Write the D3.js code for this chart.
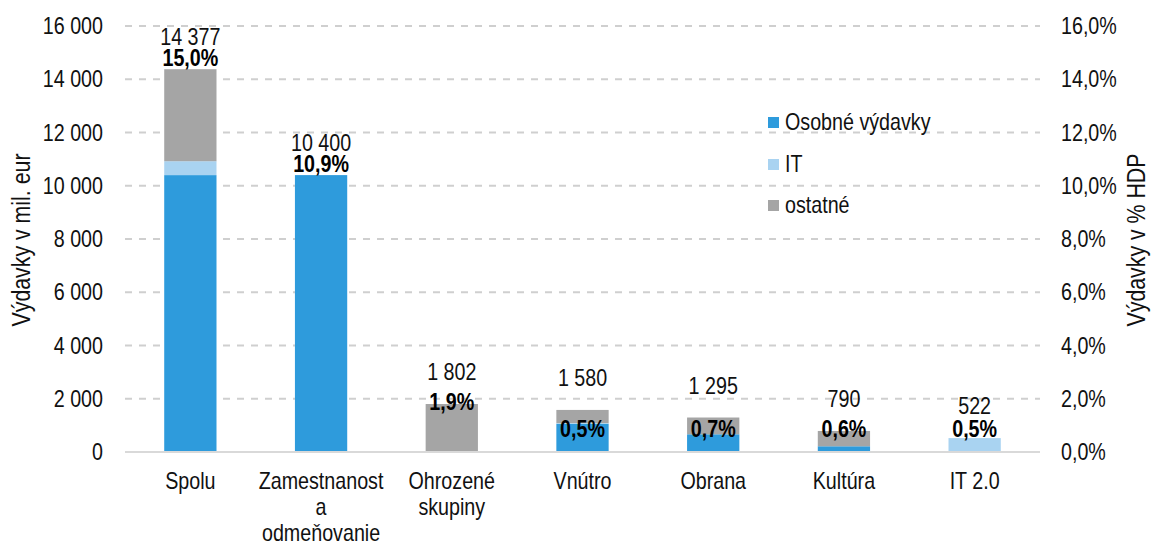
<!DOCTYPE html>
<html>
<head>
<meta charset="utf-8">
<script src="https://cdn.jsdelivr.net/npm/d3@7"></script>
<style>
  body { margin: 0; background: #fff; }
  svg { display: block; }
</style>
</head>
<body>
<svg id="chart" width="1153" height="546"></svg>
<script>
// Category labels (one entry per line)
const categories = [
  ["Spolu"],
  ["Zamestnanost", "a", "odmeňovanie"],
  ["Ohrozené", "skupiny"],
  ["Vnútro"],
  ["Obrana"],
  ["Kultúra"],
  ["IT 2.0"]
];
// Expenditure components, mil. EUR
const osobneVydavky  = [10400, 10400, 0, 1060, 665, 215, 0];
const itVydavky      = [522, 0, 0, 25, 0, 0, 522];
const ostatneVydavky = [3455, 0, 1802, 495, 630, 575, 0];
// Share of GDP, %
const podielHDP = [15.0, 10.9, 1.9, 0.5, 0.7, 0.6, 0.5];

const seriesNames = ["Osobné výdavky", "IT", "ostatné"];
const leftTicks  = [0, 2000, 4000, 6000, 8000, 10000, 12000, 14000, 16000];
const rightTicks = [0, 2, 4, 6, 8, 10, 12, 14, 16];
const leftTitle  = "Výdavky v mil. eur";
const rightTitle = "Výdavky v % HDP";

const colors = ["#2e9bdc", "#a9d3f1", "#a5a5a5"];
const FS = 24;

const rows = categories.map((c, i) => ({
  i,
  s0: osobneVydavky[i],
  s1: itVydavky[i],
  s2: ostatneVydavky[i],
  pct: podielHDP[i]
}));
rows.forEach(r => r.total = r.s0 + r.s1 + r.s2);

const sk = d3.formatLocale({ decimal: ",", thousands: "\u00a0", grouping: [3], currency: ["", " €"] });
const fmtNum = sk.format(",d");
const fmtPct = v => sk.format(".1f")(v) + "%";

// Font: narrow sans if present, otherwise compress the regular face horizontally
const cv = document.createElement("canvas").getContext("2d");
cv.font = "40px 'Liberation Sans Narrow', monospace";
const wN = cv.measureText("Zamestnanost 16 000").width;
cv.font = "40px monospace";
const wM = cv.measureText("Zamestnanost 16 000").width;
const hasNarrow = Math.abs(wN - wM) > 0.5;
const FONT = hasNarrow ? "'Liberation Sans Narrow', 'Arial Narrow', sans-serif" : "'Liberation Sans', Arial, sans-serif";
function condense(sel) {
  if (hasNarrow) return;
  sel.each(function () {
    const len = this.getComputedTextLength();
    if (len > 0) {
      this.setAttribute("textLength", (len * 0.82).toFixed(2));
      this.setAttribute("lengthAdjust", "spacingAndGlyphs");
    }
  });
}

const svg = d3.select("#chart").style("font-family", FONT);
const plotL = 125, plotR = 1040, plotT = 26, plotB = 452;

const x = d3.scaleBand().domain(d3.range(categories.length)).range([plotL, plotR])
  .paddingInner(0.6).paddingOuter(0.3);
const y = d3.scaleLinear().domain([0, 16000]).range([plotB, plotT]);
const yPct = d3.scaleLinear().domain([0, 16]).range([plotB, plotT]);

// Grid
svg.append("g").selectAll("line").data(leftTicks.filter(d => d > 0)).join("line")
  .attr("x1", plotL).attr("x2", plotR)
  .attr("y1", d => y(d)).attr("y2", d => y(d))
  .attr("stroke", "#cfcfcf").attr("stroke-width", 2).attr("stroke-dasharray", "7,7");

// Stacked bars
const keys = ["s0", "s1", "s2"];
const stacked = d3.stack().keys(keys)(rows);
svg.append("g").selectAll("g").data(stacked).join("g")
  .attr("fill", (d, k) => colors[k])
  .selectAll("rect").data(d => d.filter(p => p[1] > p[0])).join("rect")
  .attr("x", p => x(p.data.i))
  .attr("width", x.bandwidth())
  .attr("y", p => y(p[1]))
  .attr("height", p => y(p[0]) - y(p[1]));

// Baseline
svg.append("line").attr("x1", plotL).attr("x2", plotR)
  .attr("y1", y(0)).attr("y2", y(0))
  .attr("stroke", "#d9d9d9").attr("stroke-width", 2);

// Axes
const axL = svg.append("g").attr("transform", `translate(${plotL},0)`)
  .call(d3.axisLeft(y).tickValues(leftTicks).tickFormat(fmtNum).tickSize(0).tickPadding(22));
const axR = svg.append("g").attr("transform", `translate(${plotR},0)`)
  .call(d3.axisRight(yPct).tickValues(rightTicks).tickFormat(fmtPct).tickSize(0).tickPadding(21));
[axL, axR].forEach(a => {
  a.select(".domain").remove();
  a.selectAll("text").attr("font-size", FS).attr("fill", "#111").attr("font-family", FONT);
  condense(a.selectAll("text"));
});

// Category labels
const xl = svg.append("g");
categories.forEach((lines, i) => {
  lines.forEach((t, j) => {
    xl.append("text")
      .attr("x", x(i) + x.bandwidth() / 2)
      .attr("y", 489 + j * 26)
      .attr("text-anchor", "middle")
      .attr("font-size", FS).attr("fill", "#111")
      .text(t);
  });
});
condense(xl.selectAll("text"));

// Value labels: total above the bar, share of GDP near the bar top
const vl = svg.append("g");
vl.selectAll("text.tot").data(rows).join("text").attr("class", "tot")
  .attr("x", d => x(d.i) + x.bandwidth() / 2)
  .attr("y", d => y(d.total) - 24)
  .attr("text-anchor", "middle").attr("font-size", FS).attr("fill", "#111")
  .text(d => fmtNum(d.total));
vl.selectAll("text.pct").data(rows).join("text").attr("class", "pct")
  .attr("x", d => x(d.i) + x.bandwidth() / 2)
  .attr("y", d => Math.max(y(d.total) - 3, Math.min(yPct(d.pct) + 9, plotB - 15)))
  .attr("text-anchor", "middle").attr("font-size", FS).attr("font-weight", "bold").attr("fill", "#000")
  .text(d => fmtPct(d.pct));
condense(vl.selectAll("text"));

// Axis titles
const tl = svg.append("text")
  .attr("transform", `translate(30,240) rotate(-90)`)
  .attr("text-anchor", "middle").attr("font-size", 26).attr("fill", "#111")
  .text(leftTitle);
const tr = svg.append("text")
  .attr("transform", `translate(1145,240) rotate(-90)`)
  .attr("text-anchor", "middle").attr("font-size", 26).attr("fill", "#111")
  .text(rightTitle);
condense(tl); condense(tr);

// Legend
const lg = svg.append("g").attr("transform", "translate(768,0)");
const lgY = [122, 164, 205];
seriesNames.forEach((name, k) => {
  lg.append("rect").attr("x", 0).attr("y", lgY[k] - 5).attr("width", 11).attr("height", 11).attr("fill", colors[k]);
  lg.append("text").attr("x", 17).attr("y", lgY[k] + 8)
    .attr("font-size", FS).attr("fill", "#111").text(name);
});
condense(lg.selectAll("text"));
</script>
</body>
</html>
